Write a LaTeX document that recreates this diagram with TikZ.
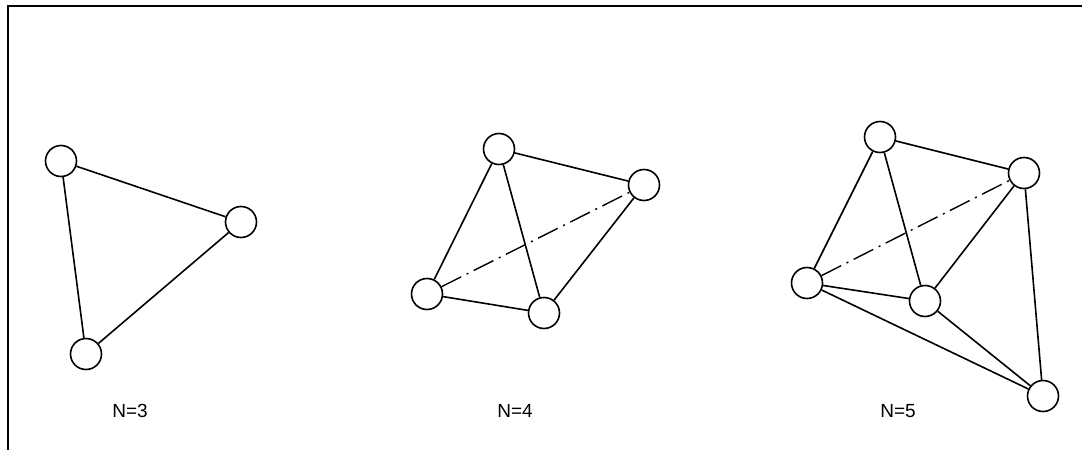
\documentclass[tikz,border=0pt]{standalone}
\usepackage{fontspec}
\setmainfont{Liberation Sans}
\begin{document}
\begin{tikzpicture}[x=1pt,y=-1pt,
  vtx/.style={circle,draw,line width=1.6pt,minimum size=31pt,inner sep=0pt},
  edge/.style={line width=1.6pt},
  hidden/.style={line width=1.4pt,dash pattern=on 22pt off 6pt on 2pt off 6pt},
  lbl/.style={font=\fontsize{19}{22}\selectfont,inner sep=0pt},
  frame/.style={line width=2pt}]
\useasboundingbox (0,0) rectangle (1082,450);
\coordinate (fa) at (8,450);
\coordinate (fb) at (8,6);
\coordinate (fc) at (1082,6);
\draw[frame] (fa) -- (fb) -- (fc);
% N=3
\node[vtx] (a1) at (61,161) {};
\node[vtx] (a2) at (241,222) {};
\node[vtx] (a3) at (86,354) {};
\draw[edge] (a1) -- (a2);
\draw[edge] (a1) -- (a3);
\draw[edge] (a2) -- (a3);
\node[lbl] (l3) at (130,411) {N=3};
% N=4
\node[vtx] (b1) at (499,149) {};
\node[vtx] (b2) at (644,185) {};
\node[vtx] (b3) at (427,294) {};
\node[vtx] (b4) at (544,313) {};
\draw[edge] (b1) -- (b2);
\draw[edge] (b1) -- (b3);
\draw[edge] (b1) -- (b4);
\draw[edge] (b3) -- (b4);
\draw[edge] (b2) -- (b4);
\draw[hidden] (b3) -- (b2);
\node[lbl] (l4) at (515,411) {N=4};
% N=5
\node[vtx] (c1) at (880,137) {};
\node[vtx] (c2) at (1024,173) {};
\node[vtx] (c3) at (807,283) {};
\node[vtx] (c4) at (925,301) {};
\node[vtx] (c5) at (1043,396) {};
\draw[edge] (c1) -- (c2);
\draw[edge] (c1) -- (c3);
\draw[edge] (c1) -- (c4);
\draw[edge] (c3) -- (c4);
\draw[edge] (c2) -- (c4);
\draw[edge] (c2) -- (c5);
\draw[edge] (c3) -- (c5);
\draw[edge] (c4) -- (c5);
\draw[hidden] (c3) -- (c2);
\node[lbl] (l5) at (898,411) {N=5};
\end{tikzpicture}
\end{document}
